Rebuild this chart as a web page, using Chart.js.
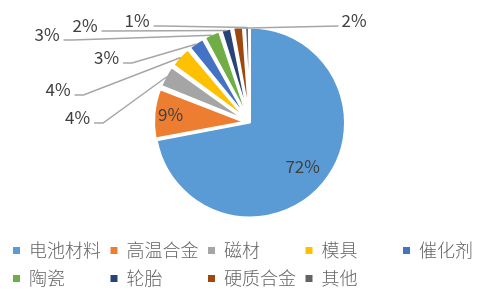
<!DOCTYPE html>
<html><head><meta charset="utf-8">
<script src="https://cdn.jsdelivr.net/npm/chart.js@4.4.1/dist/chart.umd.min.js"></script>
<style>html,body{margin:0;padding:0;background:#fff;}#wrap{width:492px;height:295px;position:relative;}</style>
</head><body><div id="wrap"><canvas id="c" width="492" height="295"></canvas></div>
<script>
const categories = ['电池材料', '高温合金', '磁材', '模具', '催化剂', '陶瓷', '轮胎', '硬质合金', '其他'];
const shares = [72, 9, 4, 4, 3, 3, 2, 2, 1];
const colors = ['#5B9BD5', '#ED7D31', '#A5A5A5', '#FFC000', '#4472C4', '#70AD47', '#264478', '#9E480E', '#636363'];
const explode = [0, 24, 24, 24, 24, 24, 24, 24, 24];

const PIE_R = 95;
const LABEL_FONT = '17px "Noto Sans CJK SC", "Liberation Sans", sans-serif';
const LEGEND_FONT = '300 18px "Noto Sans CJK SC", sans-serif';

// label placement (layout only)
const labelLayout = [
  {inside: 0.72}, {inside: 0.82},
  {x: 77.5, y: 118, side: 'L'}, {x: 58, y: 90, side: 'L'}, {x: 106.5, y: 58, side: 'L'},
  {x: 47, y: 35, side: 'L'}, {x: 85, y: 26, side: 'L'}, {x: 354, y: 21, side: 'R'},
  {x: 137, y: 21, side: 'L'}
];

const shrinkPlugin = {
  id: 'shrink',
  beforeDatasetsDraw(chart) {
    const meta = chart.getDatasetMeta(0);
    meta.data.forEach((arc, i) => {
      if (i === 0) return;
      const off = (explode[i] || 0) / 4;
      const circ = arc.endAngle - arc.startAngle;
      const fix = 1 - Math.sin(Math.min(Math.PI, circ));
      arc.outerRadius = PIE_R - 5 - off * fix;
    });
  }
};

function arcGeom(arc, i) {
  const mid = (arc.startAngle + arc.endAngle) / 2;
  const off = (explode[i] || 0) / 4;
  const cx = arc.x + Math.cos(mid) * off, cy = arc.y + Math.sin(mid) * off;
  const circ = arc.endAngle - arc.startAngle;
  const fix = 1 - Math.sin(Math.min(Math.PI, circ));
  const r = arc.outerRadius + off * fix;
  return {mid, cx, cy, r};
}

const labelPlugin = {
  id: 'pctLabels',
  afterDatasetsDraw(chart) {
    const ctx = chart.ctx;
    const meta = chart.getDatasetMeta(0);
    ctx.save();
    ctx.font = LABEL_FONT;
    ctx.textAlign = 'center';
    ctx.textBaseline = 'middle';
    meta.data.forEach((arc, i) => {
      const lay = labelLayout[i];
      const g = arcGeom(arc, i);
      const txt = shares[i] + '%';
      ctx.fillStyle = '#404040';
      if (lay.inside) {
        const d = g.r * lay.inside;
        ctx.fillText(txt, g.cx + Math.cos(g.mid) * d, g.cy + Math.sin(g.mid) * d);
        return;
      }
      const w = ctx.measureText(txt).width;
      const ex = g.cx + Math.cos(g.mid) * (g.r - 1);
      const ey = g.cy + Math.sin(g.mid) * (g.r - 1);
      ctx.strokeStyle = '#A6A6A6';
      ctx.lineWidth = 1.5;
      ctx.beginPath();
      if (lay.side === 'L') {
        const sx = lay.x + w / 2 + 4, sy = lay.y + 5;
        ctx.moveTo(sx, sy);
        ctx.lineTo(sx + 9, sy);
        ctx.lineTo(ex, ey);
      } else {
        const sx = lay.x - w / 2 - 3, sy = lay.y + 5;
        ctx.moveTo(ex, ey);
        ctx.lineTo(sx, sy);
      }
      ctx.stroke();
      ctx.fillText(txt, lay.x, lay.y);
    });
    ctx.restore();
  }
};

const legendPlugin = {
  id: 'gridLegend',
  afterDraw(chart) {
    const ctx = chart.ctx;
    const labels = chart.data.labels;
    const bg = chart.data.datasets[0].backgroundColor;
    ctx.save();
    ctx.font = LEGEND_FONT;
    ctx.textBaseline = 'middle';
    ctx.textAlign = 'left';
    labels.forEach((lab, i) => {
      const col = i % 5, row = Math.floor(i / 5);
      const x = 13 + col * 97.5;
      const y = 250.5 + row * 28;
      ctx.fillStyle = bg[i];
      ctx.fillRect(x, y - 3.5, 7, 7);
      ctx.fillStyle = '#646464';
      ctx.fillText(lab, x + 16, y);
    });
    ctx.restore();
  }
};

new Chart(document.getElementById('c'), {
  type: 'pie',
  data: {
    labels: categories,
    datasets: [{
      data: shares,
      backgroundColor: colors,
      borderColor: '#ffffff',
      borderWidth: 2,
      offset: explode
    }]
  },
  options: {
    responsive: false,
    animation: false,
    events: [],
    radius: PIE_R,
    layout: {padding: {left: 8, right: 0, top: 20, bottom: 70}},
    plugins: {legend: {display: false}, tooltip: {enabled: false}}
  },
  plugins: [shrinkPlugin, labelPlugin, legendPlugin]
});
</script>
</body></html>
